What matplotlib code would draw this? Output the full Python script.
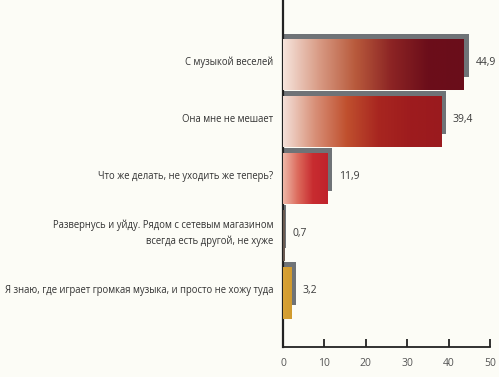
import numpy as np
import matplotlib.pyplot as plt
from matplotlib.colors import LinearSegmentedColormap

# данные опроса
answers = [
    "С музыкой веселей",
    "Она мне не мешает",
    "Что же делать, не уходить же теперь?",
    "Развернусь и уйду. Рядом с сетевым магазином\nвсегда есть другой, не хуже",
    "Я знаю, где играет громкая музыка, и просто не хожу туда",
]
values = [44.9, 39.4, 11.9, 0.7, 3.2]
value_labels = ["44,9", "39,4", "11,9", "0,7", "3,2"]
x_ticks = [0, 10, 20, 30, 40, 50]

# градиенты для лицевых столбиков
gradients = [
    ["#f6e4dc", "#d89a84", "#b85a3c", "#8c2424", "#6c0e1a", "#6a0d1a"],
    ["#f4e0d8", "#d89078", "#c0502e", "#a82620", "#9e1c1e", "#9a1a1e"],
    ["#eeb8a8", "#dc6a5c", "#c82c30", "#c0232c"],
    ["#6a5a50", "#6a5a50"],
    ["#d8a236", "#d09a2e"],
]

shadow_color = "#6f7377"
bg = "#fcfcf6"

fig = plt.figure(figsize=(4.99, 3.77), dpi=100, facecolor=bg)
ax = fig.add_axes([283 / 499, 30 / 377, 207 / 499, 347 / 377])
ax.set_facecolor(bg)

px_unit = 57.0          # шаг между столбиками в пикселях
shadow_h = 43 / px_unit
front_h = 51 / px_unit
front_dy = 9.5 / px_unit
front_cut = 1.2         # лицевой столбик короче тени

grad = np.linspace(0, 1, 256).reshape(1, -1)
for i, (v, cols) in enumerate(zip(values, gradients)):
    ax.barh(i, v, height=shadow_h, color=shadow_color, zorder=2)
    w = max(v - front_cut, 0.35)
    cmap = LinearSegmentedColormap.from_list("g%d" % i, cols)
    yc = i + front_dy
    ax.imshow(grad, cmap=cmap, aspect="auto", zorder=3,
              extent=[0, w, yc + front_h / 2, yc - front_h / 2])
    ax.text(v + 1.6, yc - 0.05, value_labels[i], fontsize=7.5, color="#3a3a3a",
            va="center", ha="left", family="Open Sans")
    ax.text(-2.4, yc - 0.05, answers[i], fontsize=6.85, color="#333333",
            va="center", ha="right", family="Open Sans", linespacing=1.6)

ax.set_xlim(0, 50)
ax.set_ylim((347 - 55.5) / px_unit, -55.5 / px_unit)
ax.set_xticks(x_ticks)
ax.set_xticklabels([str(t) for t in x_ticks], fontsize=7.5, color="#555555",
                   family="Open Sans")
ax.set_yticks([])
ax.tick_params(axis="x", direction="in", length=6, width=1.3, color="#222222", pad=8)
for s in ["top", "right"]:
    ax.spines[s].set_visible(False)
ax.spines["left"].set_linewidth(1.6)
ax.spines["left"].set_color("#222222")
ax.spines["bottom"].set_linewidth(1.3)
ax.spines["bottom"].set_color("#222222")

fig.savefig("out.png", dpi=100, facecolor=bg)
